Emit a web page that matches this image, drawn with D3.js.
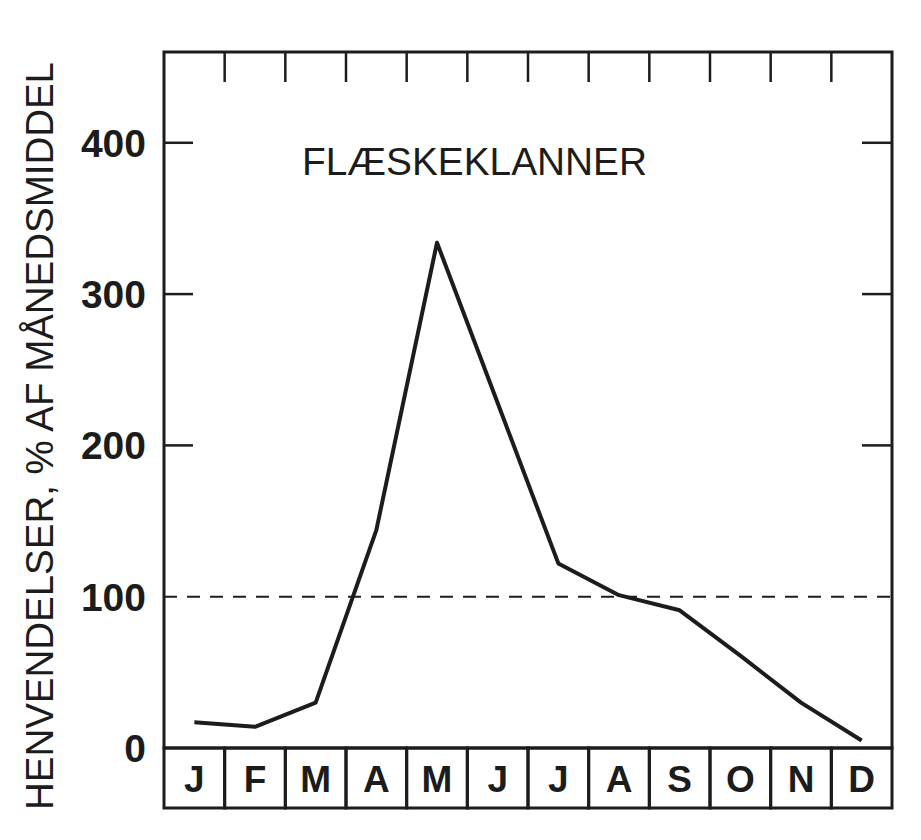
<!DOCTYPE html>
<html>
<head>
<meta charset="utf-8">
<script src="https://cdn.jsdelivr.net/npm/d3@7/dist/d3.min.js"></script>
<style>
  html, body { margin: 0; padding: 0; background: #fff; }
  svg { display: block; }
</style>
</head>
<body>
<svg id="chart" width="921" height="840"></svg>
<script>
// Data
const months = ["J", "F", "M", "A", "M", "J", "J", "A", "S", "O", "N", "D"];
const values = [17, 14, 30, 144, 334, 228, 122, 101, 91, 61, 30, 5];
const yTickValues = [0, 100, 200, 300, 400];
const yTickMarks = [200, 300, 400];
const referenceValue = 100;
const title = "FLÆSKEKLANNER";
const yLabel = "HENVENDELSER, % AF MÅNEDSMIDDEL";

(function () {
const svg = d3.select("#chart");
const pLeft = 164, pRight = 892, pTop = 52, zeroY = 748, boxBottom = 808;
const ink = "#1c1c1c";

const x = d3.scaleBand().domain(d3.range(months.length)).range([pLeft, pRight]).padding(0);
const y = d3.scaleLinear().domain([0, 460]).range([zeroY, pTop]);

// plot frame
svg.append("rect")
  .attr("x", pLeft).attr("y", pTop)
  .attr("width", pRight - pLeft).attr("height", zeroY - pTop)
  .attr("fill", "none").attr("stroke", ink).attr("stroke-width", 3);

// month boxes
const boxes = svg.append("g");
boxes.selectAll("rect").data(months).join("rect")
  .attr("x", (d, i) => x(i)).attr("y", zeroY)
  .attr("width", x.bandwidth()).attr("height", boxBottom - zeroY)
  .attr("fill", "none").attr("stroke", ink).attr("stroke-width", 3);
boxes.selectAll("text").data(months).join("text")
  .attr("x", (d, i) => x(i) + x.bandwidth() / 2)
  .attr("y", 792)
  .attr("text-anchor", "middle")
  .attr("font-family", "Liberation Sans, Arial, sans-serif")
  .attr("font-weight", "bold")
  .attr("font-size", 37)
  .attr("fill", ink)
  .text(d => d);

// top ticks at month boundaries
svg.append("g").selectAll("line").data(d3.range(1, months.length)).join("line")
  .attr("x1", i => x(i)).attr("x2", i => x(i))
  .attr("y1", pTop).attr("y2", pTop + 30)
  .attr("stroke", ink).attr("stroke-width", 2.5);

// y ticks left & right (inward)
const yt = svg.append("g");
yt.selectAll("line.l").data(yTickMarks).join("line").attr("class", "l")
  .attr("x1", pLeft).attr("x2", pLeft + 29)
  .attr("y1", d => y(d)).attr("y2", d => y(d))
  .attr("stroke", ink).attr("stroke-width", 2.5);
yt.selectAll("line.r").data(yTickMarks).join("line").attr("class", "r")
  .attr("x1", pRight - 30).attr("x2", pRight)
  .attr("y1", d => y(d)).attr("y2", d => y(d))
  .attr("stroke", ink).attr("stroke-width", 2.5);
yt.selectAll("text").data(yTickValues).join("text")
  .attr("x", 146)
  .attr("y", d => y(d) + 14)
  .attr("text-anchor", "end")
  .attr("font-family", "Liberation Sans, Arial, sans-serif")
  .attr("font-weight", "bold")
  .attr("font-size", 39)
  .attr("fill", ink)
  .text(d => d);

// reference dashed line
svg.append("line")
  .attr("x1", pLeft).attr("x2", pRight)
  .attr("y1", y(referenceValue)).attr("y2", y(referenceValue))
  .attr("stroke", ink).attr("stroke-width", 2)
  .attr("stroke-dasharray", "13,10");

// data line
const line = d3.line()
  .x((d, i) => x(i) + x.bandwidth() / 2)
  .y(d => y(d));
svg.append("path")
  .datum(values)
  .attr("d", line)
  .attr("fill", "none")
  .attr("stroke", ink)
  .attr("stroke-width", 4)
  .attr("stroke-linejoin", "round");

// title
svg.append("text")
  .attr("x", 302).attr("y", 175)
  .attr("font-family", "Liberation Sans, Arial, sans-serif")
  .attr("font-size", 38)
  .attr("textLength", 345)
  .attr("lengthAdjust", "spacingAndGlyphs")
  .attr("fill", ink)
  .text(title);

// y axis label (rotated)
svg.append("text")
  .attr("transform", "translate(53,436) rotate(-90)")
  .attr("text-anchor", "middle")
  .attr("font-family", "Liberation Sans, Arial, sans-serif")
  .attr("font-size", 39)
  .attr("textLength", 748)
  .attr("lengthAdjust", "spacingAndGlyphs")
  .attr("fill", ink)
  .text(yLabel);
})();
</script>
</body>
</html>
